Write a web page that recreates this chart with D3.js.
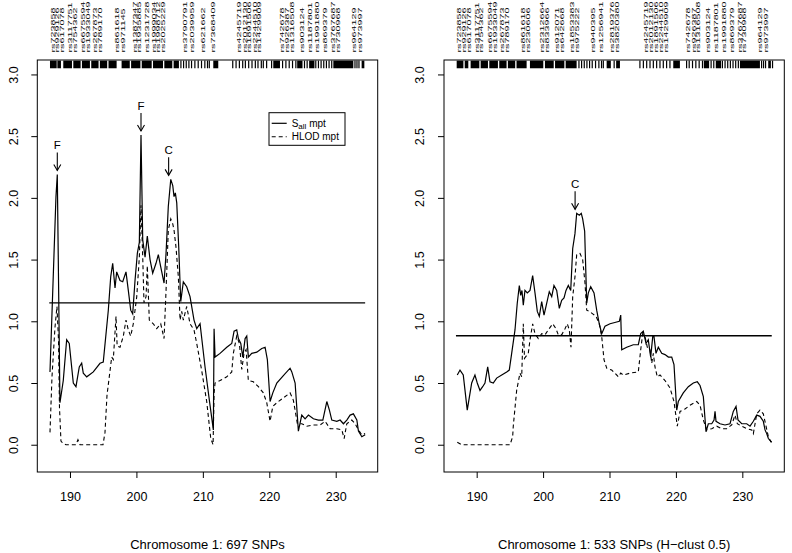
<!DOCTYPE html>
<html><head><meta charset="utf-8">
<script src="https://cdn.jsdelivr.net/npm/d3@7"></script>
<style>body{margin:0;background:#fff} text{font-family:"Liberation Sans",Arial,Helvetica,sans-serif;fill:#000}</style>
</head><body><svg id="c" width="792" height="553"></svg>
<script>
// ---------- data ----------
const xTicks = [190, 200, 210, 220, 230];
const yTicks = [0, 0.5, 1, 1.5, 2, 2.5, 3];
const yTickLabels = ["0.0", "0.5", "1.0", "1.5", "2.0", "2.5", "3.0"];
const titles = ["Chromosome 1: 697 SNPs", "Chromosome 1: 533 SNPs (H\u2212clust 0.5)"];
const thresholds = [1.15, 0.883];

const leftSall = [[186.99,0.59],[187.89,2.01],[188.09,2.19],[188.49,0.34],[188.99,0.52],[189.50,0.85],[189.89,0.82],[190.50,0.50],[190.90,0.47],[191.40,0.63],[191.76,0.66],[192.00,0.58],[192.52,0.55],[193.51,0.59],[194.52,0.66],[195.01,0.67],[195.77,1.09],[196.13,1.36],[196.43,1.47],[196.78,1.27],[197.03,1.40],[197.53,1.33],[197.94,1.32],[198.43,1.40],[198.78,1.25],[199.14,1.09],[199.44,1.06],[199.79,1.33],[200.14,1.55],[200.44,1.64],[200.69,2.51],[200.95,1.66],[201.30,1.52],[201.64,1.69],[202.05,1.50],[202.45,1.39],[202.95,1.47],[203.30,1.54],[203.66,1.44],[204.16,1.31],[204.46,1.55],[204.80,1.93],[205.17,2.15],[205.47,2.10],[205.66,2.01],[205.86,2.04],[206.07,1.96],[206.37,1.60],[206.67,1.16],[207.06,1.32],[207.57,1.28],[208.07,1.20],[208.67,1.01],[209.08,0.94],[209.58,0.98],[210.33,0.63],[210.98,0.36],[211.58,0.12],[211.69,0.94],[211.84,0.71],[212.59,0.74],[213.60,0.79],[214.35,0.82],[214.70,0.92],[215.10,0.93],[215.35,0.86],[215.71,0.82],[216.01,0.71],[216.36,0.86],[216.61,0.88],[216.85,0.71],[217.36,0.74],[218.12,0.75],[218.87,0.78],[219.37,0.79],[219.71,0.69],[220.12,0.35],[220.53,0.42],[221.13,0.50],[222.12,0.56],[223.13,0.62],[223.39,0.59],[223.89,0.50],[224.38,0.11],[224.89,0.24],[225.39,0.21],[225.89,0.24],[226.64,0.21],[227.39,0.20],[228.06,0.20],[228.66,0.35],[229.05,0.28],[229.41,0.20],[230.17,0.19],[230.66,0.20],[231.16,0.17],[231.67,0.20],[232.17,0.24],[232.66,0.25],[233.18,0.20],[233.42,0.11],[233.93,0.065],[234.43,0.08]];

const leftHlod = [[186.99,0.10],[187.29,0.55],[187.74,0.95],[188.04,1.12],[188.27,0.85],[188.42,0.30],[188.64,0.03],[188.95,0.01],[189.40,0.0],[190.90,0.0],[191.20,0.04],[191.51,0.0],[194.97,0.0],[195.27,0.1],[195.57,0.4],[196.28,0.71],[196.52,0.69],[196.93,1.04],[197.10,0.80],[197.53,0.79],[198.03,0.88],[198.43,1.01],[198.78,0.93],[199.14,0.88],[199.53,0.98],[200.05,1.20],[200.44,1.52],[200.69,1.94],[200.95,1.52],[201.14,1.15],[201.45,1.20],[201.64,1.45],[201.94,1.01],[202.54,0.98],[203.06,0.94],[203.66,0.98],[204.16,0.86],[204.46,1.25],[204.80,1.74],[205.17,1.83],[205.47,1.79],[205.66,1.74],[205.96,1.60],[206.31,1.36],[206.57,1.01],[206.82,1.08],[207.06,1.01],[207.57,1.12],[208.07,0.98],[208.67,0.93],[209.08,0.82],[209.83,0.60],[210.58,0.35],[211.19,0.05],[211.54,0.0],[211.69,0.42],[211.84,0.50],[212.59,0.52],[213.60,0.55],[214.35,0.59],[214.59,0.74],[215.10,0.88],[215.50,0.82],[215.86,0.61],[216.20,0.74],[216.51,0.77],[216.85,0.52],[217.60,0.51],[218.36,0.47],[219.11,0.42],[219.62,0.34],[220.12,0.19],[220.53,0.31],[221.13,0.34],[222.12,0.38],[223.13,0.42],[223.63,0.36],[224.23,0.17],[224.89,0.17],[225.64,0.15],[226.64,0.16],[227.65,0.16],[228.40,0.19],[229.16,0.13],[230.17,0.13],[230.92,0.12],[231.27,0.05],[231.67,0.17],[232.42,0.20],[232.92,0.17],[233.42,0.12],[233.93,0.08],[234.43,0.09]];

const rightSall = [[187.08,0.565],[187.49,0.605],[187.98,0.565],[188.58,0.28],[189.25,0.50],[189.74,0.565],[190.09,0.50],[190.50,0.44],[190.90,0.47],[191.25,0.50],[191.66,0.63],[192.00,0.51],[192.50,0.50],[193.01,0.54],[193.77,0.565],[194.52,0.59],[194.91,0.605],[195.27,0.74],[195.77,0.93],[196.11,1.146],[196.42,1.29],[196.63,1.21],[196.82,1.25],[197.02,1.13],[197.27,1.25],[197.62,1.23],[198.03,1.25],[198.43,1.37],[198.78,1.23],[199.13,1.08],[199.43,1.04],[199.79,1.16],[200.14,1.05],[200.44,1.12],[200.93,1.24],[201.30,1.20],[201.64,1.29],[202.05,1.25],[202.44,1.105],[202.80,1.17],[203.15,1.19],[203.45,1.25],[203.80,1.29],[204.16,1.25],[204.46,1.59],[204.80,1.71],[205.06,1.875],[205.45,1.86],[205.75,1.875],[205.96,1.83],[206.26,1.73],[206.57,1.146],[206.81,1.23],[207.17,1.28],[207.67,1.23],[208.07,1.09],[208.46,0.98],[208.83,0.90],[209.32,0.96],[210.08,0.98],[210.80,0.99],[211.48,1.0],[211.69,1.05],[211.84,0.77],[212.59,0.79],[213.58,0.81],[214.34,0.81],[214.70,0.90],[215.09,0.92],[215.50,0.82],[215.84,0.85],[216.20,0.71],[216.51,0.875],[216.70,0.875],[217.00,0.74],[217.35,0.79],[217.86,0.74],[218.36,0.73],[218.86,0.71],[219.37,0.71],[219.71,0.65],[220.12,0.28],[220.36,0.35],[221.11,0.42],[221.87,0.47],[222.62,0.50],[223.22,0.51],[223.63,0.48],[224.13,0.39],[224.53,0.105],[224.88,0.17],[225.39,0.17],[225.74,0.20],[225.89,0.27],[226.04,0.19],[226.64,0.17],[227.39,0.16],[228.15,0.17],[228.64,0.27],[229.05,0.31],[229.35,0.20],[229.91,0.17],[230.66,0.17],[231.16,0.15],[231.66,0.19],[232.17,0.24],[232.66,0.23],[233.16,0.19],[233.42,0.12],[233.67,0.09],[233.92,0.05],[234.43,0.02]];

const rightHlod = [[187.08,0.02],[187.74,0.0],[195.02,0.0],[195.42,0.065],[195.51,0.15],[196.02,0.44],[196.52,0.58],[196.78,0.55],[197.02,0.98],[197.20,0.70],[197.77,0.74],[198.03,0.85],[198.43,0.98],[198.78,0.90],[199.28,0.86],[199.79,0.90],[200.29,0.89],[200.78,0.93],[201.45,0.98],[201.94,0.94],[202.29,0.89],[202.80,0.89],[203.30,0.94],[203.64,0.98],[203.95,0.93],[204.20,0.79],[204.46,1.20],[204.80,1.36],[205.06,1.54],[205.56,1.55],[205.96,1.50],[206.31,1.31],[206.57,1.09],[206.96,1.08],[207.47,1.06],[207.97,1.04],[208.46,0.98],[208.83,0.875],[209.17,0.69],[209.58,0.62],[210.33,0.605],[211.08,0.565],[211.33,0.55],[211.69,0.58],[212.08,0.565],[213.09,0.58],[214.34,0.59],[214.70,0.77],[215.00,0.90],[215.35,0.875],[215.69,0.79],[216.10,0.77],[216.36,0.66],[216.60,0.74],[216.85,0.63],[217.20,0.55],[217.61,0.565],[218.36,0.52],[219.11,0.46],[219.71,0.35],[220.21,0.15],[220.62,0.27],[221.37,0.29],[222.12,0.32],[223.13,0.35],[223.63,0.32],[224.13,0.20],[224.64,0.12],[225.39,0.13],[226.14,0.15],[226.90,0.13],[227.65,0.13],[228.40,0.16],[228.90,0.24],[229.25,0.17],[229.91,0.15],[230.66,0.13],[231.42,0.12],[231.66,0.09],[232.17,0.25],[232.66,0.28],[233.16,0.25],[233.57,0.15],[233.92,0.065],[234.32,0.02]];

// marker labels (name, Mb)
const leftLabels = [["rs723858",187.38],["rs929126",188.09],["rs617078",188.80],["rs3117751",190.00],["rs754362",190.69],["rs6675594",192.00],["rs1933049",192.71],["rs267873",193.81],["rs789170",194.52],["rs861618",197.02],["rs971145",197.93],["rs1387347",199.80],["rs1935885",200.40],["rs1231728",201.60],["rs1999034",202.60],["rs1998712",203.20],["rs2025229",204.00],["rs3790791",207.30],["rs2039959",208.40],["rs621662",210.00],["rs7368409",211.50],["rs4245719",215.50],["rs2012130",216.30],["rs1891506",217.00],["rs2244510",217.80],["rs1429909",218.50],["rs742678",221.90],["rs926387",222.70],["rs1316508",223.40],["rs903124",224.90],["rs1187801",226.10],["rs1991880",227.20],["rs869379",228.40],["rs3767687",229.60],["rs730968",230.30],["rs964129",232.70],["rs973997",233.60]];
const rightLabels = [["rs723858",187.38],["rs929126",188.09],["rs617078",188.80],["rs3117751",190.00],["rs754362",190.69],["rs6675594",192.00],["rs1933049",192.71],["rs267873",193.81],["rs789170",194.52],["rs861618",197.02],["rs230606",197.77],["rs2312664",199.79],["rs833966",200.54],["rs912071",202.04],["rs642668",202.80],["rs1853383",204.30],["rs975222",205.05],["rs940395",207.55],["rs1256941",208.67],["rs2819376",210.44],["rs3820380",211.20],["rs4245719",215.50],["rs2012130",216.30],["rs1891506",217.00],["rs2244510",217.80],["rs1429909",218.50],["rs742678",221.90],["rs926387",222.70],["rs1316508",223.40],["rs903124",224.90],["rs1187801",226.10],["rs1991880",227.20],["rs869379",228.40],["rs3767687",229.60],["rs730968",230.30],["rs964129",232.70],["rs973997",233.60]];

// SNP rug: dense blocks [start,end] and single marks (Mb)
const leftRugBlocks = [[186.99,188.0],[188.1,188.64],[188.99,190.3],[190.5,191.6],[191.8,193.0],[193.2,194.3],[194.5,195.6],[195.8,197.02],[197.77,199.0],[199.2,200.6],[200.8,202.3],[202.5,204.0],[204.2,205.4],[205.6,206.4],[211.57,212.32],[220.6,221.61],[224.2,225.0],[226.0,226.8],[229.64,232.65],[233.9,234.31]];
const leftRugTicks = [206.7,207.1,207.5,207.9,208.3,208.8,209.3,209.8,210.3,210.7,210.97,214.5,215.0,215.5,216.0,216.4,216.9,217.4,217.9,218.3,218.8,219.1,219.6,220.35,222.0,222.5,223.0,223.5,224.0,225.3,225.7,227.0,227.4,227.8,228.2,228.6,229.0,229.4,232.9,233.2,233.5];
const rightRugBlocks = [[186.99,188.0],[188.2,188.74],[189.09,190.4],[190.6,191.7],[191.9,193.2],[193.4,194.5],[194.7,195.8],[196.0,197.52],[198.02,200.03],[200.28,201.6],[201.8,203.2],[203.4,205.05],[209.57,210.2],[211.0,211.57],[219.6,220.6],[224.2,225.0],[226.0,226.8],[229.64,232.65],[233.9,234.3]];
const rightRugTicks = [205.4,205.8,206.2,206.6,207.0,207.4,207.9,208.4,208.8,209.07,210.7,214.58,215.1,215.6,216.1,216.6,217.1,217.6,218.1,218.6,219.1,221.61,222.0,222.5,223.0,223.5,224.0,225.3,225.7,227.0,227.4,227.8,228.2,228.6,229.0,229.4,232.9,233.2,233.5,234.55];

// annotations: [panel, letter, Mb, peak value]
const annotations = [[0,"F",188.09,2.19],[0,"F",200.69,2.51],[0,"C",204.85,2.15],[1,"C",204.82,1.875]];

// ---------- drawing ----------
const svg = d3.select("#c");
svg.append("rect").attr("width",792).attr("height",553).attr("fill","#fff");
const boxT = 60, boxB = 472;
const panels = [
  {L:37.3, R:377.7, sall:leftSall, hlod:leftHlod, labels:leftLabels, blocks:leftRugBlocks, ticks:leftRugTicks},
  {L:444, R:784.3, sall:rightSall, hlod:rightHlod, labels:rightLabels, blocks:rightRugBlocks, ticks:rightRugTicks}
];
const font = "'Liberation Sans', Arial, Helvetica, sans-serif";

panels.forEach((p, i) => {
  const x = d3.scaleLinear().domain([185.08, 236.32]).range([p.L, p.R]);
  const y = d3.scaleLinear().domain([-0.221, 3.117]).range([boxB, boxT]);
  const g = svg.append("g");

  // axes
  const xa = g.append("g").attr("transform", `translate(0,${boxB})`)
    .call(d3.axisBottom(x).tickValues(xTicks).tickSize(6).tickPadding(14).tickFormat(d3.format("d")));
  xa.select(".domain").remove();
  xa.selectAll("text").attr("font-size", 12.5).attr("font-family", font);
  xa.selectAll("line").attr("stroke", "#000");

  const ya = g.append("g").attr("transform", `translate(${p.L},0)`)
    .call(d3.axisLeft(y).tickValues(yTicks).tickSize(6).tickFormat((d, k) => yTickLabels[k]));
  ya.select(".domain").remove();
  ya.selectAll("line").attr("stroke", "#000");
  ya.selectAll("text").attr("font-size", 12.5).attr("font-family", font)
    .attr("text-anchor", "middle").attr("x", 0).attr("y", 0).attr("dy", "0.35em")
    .attr("transform", "translate(-24,0) rotate(-90)");

  // box
  g.append("rect").attr("x", p.L).attr("y", boxT).attr("width", p.R - p.L).attr("height", boxB - boxT)
    .attr("fill", "none").attr("stroke", "#000").attr("stroke-width", 1);

  // rug
  const rugTop = y(3.112), rugBot = y(3.05);
  g.selectAll(".rb").data(p.blocks).join("rect")
    .attr("x", d => x(d[0])).attr("width", d => Math.max(1, x(d[1]) - x(d[0])))
    .attr("y", rugTop).attr("height", rugBot - rugTop).attr("fill", "#000");
  g.selectAll(".rt").data(p.ticks).join("line")
    .attr("x1", d => x(d)).attr("x2", d => x(d)).attr("y1", rugTop).attr("y2", rugBot)
    .attr("stroke", "#000").attr("stroke-width", 1.2);

  // marker labels
  g.selectAll(".lab").data(p.labels).join("text")
    .attr("transform", d => `translate(${x(d[1])},52.5) rotate(-90) scale(1,0.5)`)
    .attr("dy", "0.36em").attr("font-size", 10.8).attr("font-family", font)
    .text(d => d[0]);

  // threshold
  g.append("line").attr("x1", x(186.88)).attr("x2", x(234.43))
    .attr("y1", y(thresholds[i])).attr("y2", y(thresholds[i]))
    .attr("stroke", "#000").attr("stroke-width", 1.3);

  const line = d3.line().x(d => x(d[0])).y(d => y(d[1]));
  g.append("path").datum(p.hlod).attr("d", line).attr("fill", "none")
    .attr("stroke", "#000").attr("stroke-width", 1.1).attr("stroke-dasharray", "4,3");
  g.append("path").datum(p.sall).attr("d", line).attr("fill", "none")
    .attr("stroke", "#000").attr("stroke-width", 1.2);

  // annotations
  annotations.filter(a => a[0] === i).forEach(a => {
    const ax = x(a[2]), tip = y(a[3]) - 4, tail = tip - 18;
    g.append("line").attr("x1", ax).attr("x2", ax).attr("y1", tail).attr("y2", tip).attr("stroke", "#000").attr("stroke-width", 1.1);
    g.append("path").attr("d", `M${ax-3.5},${tip-6}L${ax},${tip}L${ax+3.5},${tip-6}`).attr("fill", "none").attr("stroke", "#000").attr("stroke-width", 1.1);
    g.append("text").attr("x", ax).attr("y", tail - 3).attr("text-anchor", "middle")
      .attr("font-size", 11.5).attr("font-family", font).text(a[1]);
  });

  // title
  g.append("text").attr("x", (p.L + p.R) / 2).attr("y", 549).attr("text-anchor", "middle")
    .attr("font-size", 13).attr("font-family", font).text(titles[i]);

  // legend
  if (i === 0) {
    const lg = g.append("g");
    lg.append("rect").attr("x", 269).attr("y", 112.7).attr("width", 76).attr("height", 32.6)
      .attr("fill", "#fff").attr("stroke", "#000").attr("stroke-width", 1);
    lg.append("line").attr("x1", 271.7).attr("x2", 286.7).attr("y1", 123.3).attr("y2", 123.3).attr("stroke", "#000").attr("stroke-width", 1.2);
    lg.append("line").attr("x1", 271.7).attr("x2", 286.7).attr("y1", 136.7).attr("y2", 136.7).attr("stroke", "#000").attr("stroke-width", 1.1).attr("stroke-dasharray", "4,3");
    const t1 = lg.append("text").attr("x", 291.7).attr("y", 126.5).attr("font-size", 10).attr("font-family", font);
    t1.append("tspan").text("S");
    t1.append("tspan").attr("font-size", 8).attr("dy", 2).text("all");
    t1.append("tspan").attr("dy", -2).text(" mpt");
    lg.append("text").attr("x", 291.7).attr("y", 140).attr("font-size", 10).attr("font-family", font).text("HLOD mpt");
  }
});
</script></body></html>
